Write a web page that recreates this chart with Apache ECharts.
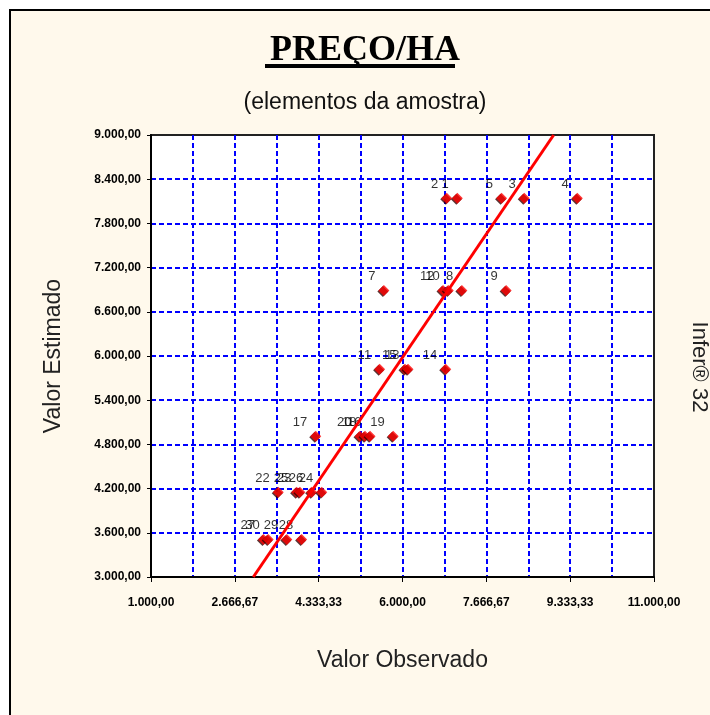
<!doctype html>
<html lang="pt-BR">
  <head>
    <meta charset="UTF-8" />
    <title>PREÇO/HA</title>
    <script src="https://cdn.jsdelivr.net/npm/echarts/dist/echarts.min.js"></script>
    <style>
      html, body { margin: 0; padding: 0; background: #fff; }
      #main { width: 710px; height: 715px; }
    </style>
  </head>
  <body>
    <div id="main"></div>
    <script>
      // valores observados x estimados (elementos da amostra)
      const observed = [6880, 7090, 7970, 8420, 9475, 5630, 6805, 6910, 7180, 8060, 5545, 6050, 6110, 6860, 4275, 5155, 5255, 5355, 5815, 3530, 3895, 3960, 4195, 4395, 3235, 3330, 3700, 3995];
      const estimated = [8140, 8140, 8140, 8140, 8140, 6890, 6890, 6890, 6890, 6890, 5820, 5820, 5820, 5820, 4910, 4910, 4910, 4910, 4910, 4150, 4150, 4150, 4150, 4150, 3510, 3510, 3510, 3510];
      const pointIds = ["2", "1", "5", "3", "4", "7", "12", "10", "8", "9", "11", "15", "13", "14", "17", "20", "18", "16", "19", "22", "25", "23", "26", "24", "27", "30", "29", "28"];

      // reta de regressão
      const lineX = [3034, 9005];
      const lineY = [3000, 9000];

      // rótulos dos eixos
      const xTickLabels = ["1.000,00", "2.666,67", "4.333,33", "6.000,00", "7.666,67", "9.333,33", "11.000,00"];
      const yTickLabels = ["3.000,00", "3.600,00", "4.200,00", "4.800,00", "5.400,00", "6.000,00", "6.600,00", "7.200,00", "7.800,00", "8.400,00", "9.000,00"];

      const chart = echarts.init(document.getElementById("main"));

      const gridLine = { color: "#0000ff", width: 2, type: [5, 3] };
      const tickFont = { fontFamily: "Arial", fontSize: 12, fontWeight: "bold", color: "#000" };

      const option = {
        backgroundColor: "#ffffff",
        animation: false,
        title: [
          {
            text: "PREÇO/HA",
            left: 360,
            top: 28,
            textAlign: "center",
            textStyle: { fontFamily: "Liberation Serif", fontWeight: "bold", fontSize: 36, color: "#000" },
          },
          {
            text: "(elementos da amostra)",
            left: 360,
            top: 86,
            textAlign: "center",
            textStyle: { fontFamily: "Arial", fontWeight: "normal", fontSize: 23, color: "#111" },
          },
        ],
        graphic: [
          {
            type: "rect",
            z: -5,
            shape: { x: 10, y: 10, width: 720, height: 720 },
            style: { fill: "#fff9ec", stroke: "#000", lineWidth: 2 },
          },
          {
            type: "rect",
            shape: { x: 265, y: 64, width: 190, height: 4 },
            style: { fill: "#000" },
          },
          {
            type: "text",
            x: 699,
            y: 367,
            rotation: -Math.PI / 2,
            style: {
              text: "Infer® 32",
              fontFamily: "Arial",
              fontSize: 22,
              fill: "#222",
              align: "center",
              verticalAlign: "middle",
            },
          },
        ],
        grid: {
          left: 151,
          top: 135,
          right: 56,
          bottom: 138,
          show: true,
          backgroundColor: "#ffffff",
          borderColor: "#222",
          borderWidth: 2,
        },
        xAxis: [
          {
            // eixo dos dados
            type: "value",
            min: 1000,
            max: 11000,
            position: "bottom",
            axisLine: { show: true, lineStyle: { color: "#000", width: 2 } },
            axisTick: { show: false },
            axisLabel: { show: false },
            splitLine: { show: false },
            name: "Valor Observado",
            nameLocation: "middle",
            nameGap: 72,
            nameTextStyle: { fontFamily: "Arial", fontSize: 23, color: "#222" },
          },
          {
            // divisões da grade (12 partes de 833,33)
            type: "value",
            min: 0,
            max: 12,
            interval: 2,
            position: "bottom",
            axisLine: { show: false },
            axisTick: { show: true, length: 5, lineStyle: { color: "#000", width: 1 } },
            axisLabel: {
              margin: 20,
              formatter: (v) => xTickLabels[Math.round(v / 2)],
              ...tickFont,
            },
            splitLine: { show: true, showMinLine: false, showMaxLine: false, lineStyle: gridLine },
            minorTick: { show: false, splitNumber: 2 },
            minorSplitLine: { show: true, lineStyle: gridLine },
          },
        ],
        yAxis: {
          type: "value",
          min: 3000,
          max: 9000,
          interval: 600,
          axisLine: { show: true, lineStyle: { color: "#000", width: 2 } },
          axisTick: { show: true, length: 4, lineStyle: { color: "#000" } },
          axisLabel: {
            margin: 10,
            formatter: (v) => yTickLabels[Math.round((v - 3000) / 600)],
            ...tickFont,
          },
          splitLine: { show: true, showMinLine: false, showMaxLine: false, lineStyle: gridLine },
          name: "Valor Estimado",
          nameLocation: "middle",
          nameGap: 86,
          nameRotate: 90,
          nameTextStyle: { fontFamily: "Arial", fontSize: 23, color: "#222" },
        },
        series: [
          {
            type: "scatter",
            xAxisIndex: 0,
            symbol: "diamond",
            symbolSize: 11,
            itemStyle: {
              color: "#ff0000",
              shadowColor: "#300",
              shadowBlur: 0,
              shadowOffsetX: -1,
              shadowOffsetY: 1,
            },
            label: {
              show: true,
              position: "left",
              distance: 3,
              offset: [0, -14],
              formatter: (p) => pointIds[p.dataIndex],
              fontFamily: "Arial",
              fontSize: 13,
              color: "#000",
            },
            data: observed.map((x, i) => [x, estimated[i]]),
          },
          {
            type: "line",
            xAxisIndex: 0,
            symbol: "none",
            lineStyle: { color: "#ff0000", width: 3 },
            data: lineX.map((x, i) => [x, lineY[i]]),
          },
        ],
      };

      chart.setOption(option);
    </script>
  </body>
</html>
